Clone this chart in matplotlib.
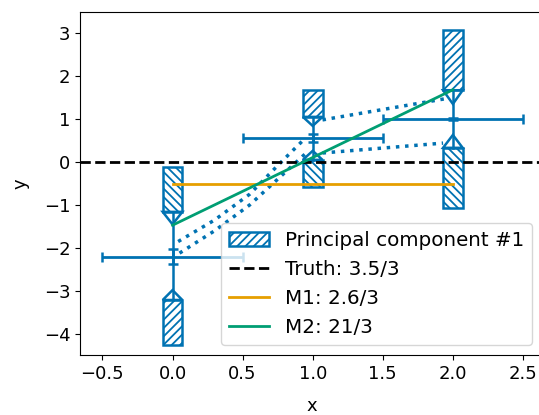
import matplotlib.pyplot as plt
from matplotlib.patches import Rectangle, Polygon, Patch

plt.rcParams["hatch.linewidth"] = 1.3
plt.rcParams["font.size"] = 13

blue = "#0072B2"
orange = "#E69F00"
green = "#009E73"

# ensemble mean / spread (errorbar) at each time
xs = [0, 1, 2]
center = [-2.2, 0.55, 1.0]
yerr_c = [0.18, 0.09, 0.02]
xerr_c = [0.5, 0.5, 0.5]

# principal component boxes (hatched) and arrow tips
top_hi = [-0.12, 1.67, 3.07]
top_lo = [-1.16, 1.05, 1.67]
top_tip = [-1.45, 0.84, 1.35]
bot_tip = [-2.98, 0.26, 0.63]
bot_hi = [-3.21, 0.05, 0.33]
bot_lo = [-4.26, -0.58, -1.07]
top_hatch = ["\\\\\\\\", "////", "////"]
bot_hatch = ["////", "\\\\\\\\", "\\\\\\\\"]

# models
m1_x = [0, 2]
m1_y = [-0.5, -0.5]
m2_x = [0, 2]
m2_y = [-1.47, 1.68]

# dotted connections
dot1_x = [0.04, 0.3, 0.55, 0.76, 0.93]
dot1_y = [-1.85, -1.35, -0.75, -0.05, 0.5]
dot2_x = [0.05, 0.3, 0.55, 0.75, 0.95]
dot2_y = [-2.12, -1.6, -1.0, -0.4, 0.2]
dot3_x = [1.07, 1.96]
dot3_y = [0.98, 1.48]
dot4_x = [1.07, 1.93]
dot4_y = [0.21, 0.44]

labels = ["Principal component #1", "Truth: 3.5/3", "M1: 2.6/3", "M2: 21/3"]

fig = plt.figure(figsize=(5.39, 4.15), dpi=100)
ax = fig.add_axes([80 / 539, 60 / 415, 464 / 539, 343 / 415])

w = 0.14
lw = 1.8
for i, x in enumerate(xs):
    ax.add_patch(Rectangle((x - w / 2, top_lo[i]), w, top_hi[i] - top_lo[i],
                           fill=False, edgecolor=blue, lw=lw, hatch=top_hatch[i]))
    ax.add_patch(Rectangle((x - w / 2, bot_lo[i]), w, bot_hi[i] - bot_lo[i],
                           fill=False, edgecolor=blue, lw=lw, hatch=bot_hatch[i]))
    ax.add_patch(Polygon([[x - w / 2, top_lo[i]], [x + w / 2, top_lo[i]], [x, top_tip[i]]],
                         closed=True, fill=False, edgecolor=blue, lw=lw))
    ax.add_patch(Polygon([[x - w / 2, bot_hi[i]], [x + w / 2, bot_hi[i]], [x, bot_tip[i]]],
                         closed=True, fill=False, edgecolor=blue, lw=lw))
    ax.plot([x, x], [top_lo[i], bot_hi[i]], color=blue, lw=lw)

ax.errorbar(xs, center, yerr=yerr_c, xerr=xerr_c, fmt="none", ecolor=blue,
            elinewidth=2, capsize=3.5, capthick=lw)

for dx, dy in [(dot1_x, dot1_y), (dot2_x, dot2_y), (dot3_x, dot3_y), (dot4_x, dot4_y)]:
    ax.plot(dx, dy, ":", color=blue, lw=2.5)

ax.axhline(0, color="k", ls="--", lw=2)
ax.plot(m1_x, m1_y, color=orange, lw=2)
ax.plot(m2_x, m2_y, color=green, lw=2)

ax.set_xlim(-0.66, 2.65)
ax.set_ylim(-4.49, 3.49)
ax.set_xlabel("x", labelpad=10)
ax.set_ylabel("y", labelpad=10)

handles = [Patch(facecolor="none", edgecolor=blue, hatch="////", lw=lw),
           plt.Line2D([], [], color="k", ls="--", lw=2),
           plt.Line2D([], [], color=orange, lw=2),
           plt.Line2D([], [], color=green, lw=2)]
ax.legend(handles, labels, loc="lower right", bbox_to_anchor=(0.995, 0.0),
          fontsize=14.3, borderaxespad=0.5, handlelength=2.0,
          labelspacing=0.5, borderpad=0.4)

fig.savefig("out.png", dpi=100)
